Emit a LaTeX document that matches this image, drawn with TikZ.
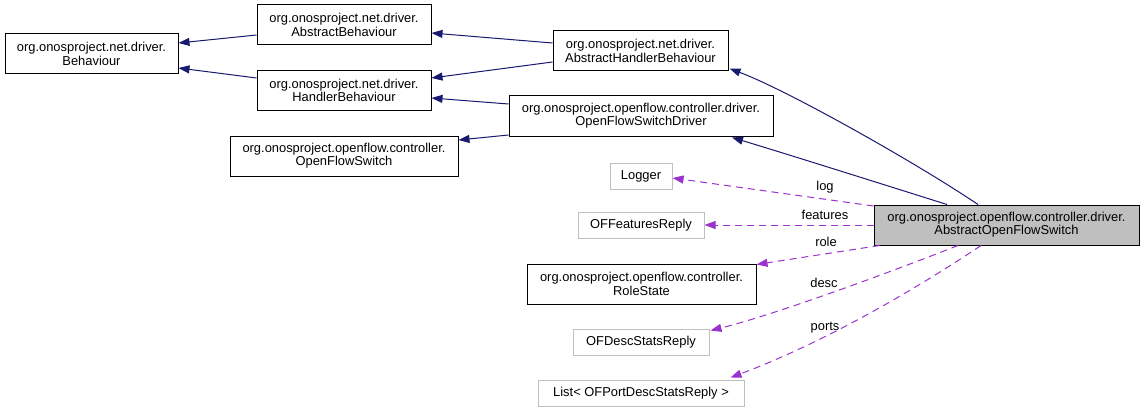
\documentclass[tikz,border=0pt]{standalone}
\usepackage{fontspec}
\setmainfont{Liberation Sans}
\usetikzlibrary{arrows.meta}
\definecolor{inhblue}{HTML}{191970}
\definecolor{usepurple}{HTML}{9A32CD}
\definecolor{undocgray}{HTML}{BFBFBF}
\tikzset{
  cls/.style={draw=black, line width=1pt, inner sep=0pt, align=center,
    font=\fontsize{12.9}{13.3}\selectfont, fill=white},
  undoc/.style={cls, draw=undocgray},
  focus/.style={cls, fill=undocgray},
  inh/.style={draw=inhblue, line width=1pt, -{Triangle[length=11pt,width=8pt]}},
  usage/.style={draw=usepurple, line width=1pt, dash pattern=on 7pt off 5pt,
    -{Triangle[length=11pt,width=8pt]}},
  elabel/.style={inner sep=0pt, text height=0.72em, text depth=0pt,
    font=\fontsize{12.9}{13.3}\selectfont}
}
\begin{document}
\begin{tikzpicture}[x=1pt,y=-1pt]
\useasboundingbox (0,0) rectangle (1144,412);
% nodes
\node[cls, minimum width=173pt, minimum height=40pt] (beh) at (91.5,54) {org.onosproject.net.driver.\\Behaviour};
\node[cls, minimum width=174pt, minimum height=40pt] (ab) at (344,25) {org.onosproject.net.driver.\\AbstractBehaviour};
\node[cls, minimum width=174pt, minimum height=40pt] (hb) at (344,90.5) {org.onosproject.net.driver.\\HandlerBehaviour};
\node[cls, minimum width=228pt, minimum height=40pt] (ofs) at (344,156) {org.onosproject.openflow.controller.\\OpenFlowSwitch};
\node[cls, minimum width=175pt, minimum height=40pt] (ahb) at (640.5,51) {org.onosproject.net.driver.\\AbstractHandlerBehaviour};
\node[cls, minimum width=264pt, minimum height=40pt] (ofsd) at (641,116) {org.onosproject.openflow.controller.driver.\\OpenFlowSwitchDriver};
\node[undoc, minimum width=62pt, minimum height=26pt] (logger) at (641,176) {Logger};
\node[undoc, minimum width=126pt, minimum height=26pt] (ofr) at (641,225) {OFFeaturesReply};
\node[cls, minimum width=229pt, minimum height=40pt] (rs) at (641.5,284) {org.onosproject.openflow.controller.\\RoleState};
\node[undoc, minimum width=136pt, minimum height=26pt] (ofd) at (641,342) {OFDescStatsReply};
\node[undoc, minimum width=206pt, minimum height=26pt] (lst) at (641,393) {List< OFPortDescStatsReply >};
\node[focus, minimum width=265pt, minimum height=40pt] (aofs) at (1006.5,225) {org.onosproject.openflow.controller.driver.\\AbstractOpenFlowSwitch};
% inheritance edges
\draw[inh] ([yshift=-10pt]ab.west) -- ([yshift=11pt]beh.east);
\draw[inh] ([yshift=12.5pt]hb.west) -- ([yshift=-14pt]beh.east);
\draw[inh] ([yshift=8pt]ahb.west) -- ([yshift=-8pt]ab.east);
\draw[inh] ([yshift=-11pt]ahb.west) -- ([yshift=12.5pt]hb.east);
\draw[inh] ([yshift=12pt]ofsd.west) -- ([yshift=-7.5pt]hb.east);
\draw[inh] ([yshift=-19pt]ofsd.west) -- ([yshift=16pt]ofs.east);
\draw[inh] ([xshift=-28.5pt]aofs.north) .. controls (918,164) and (789,91) .. ([xshift=1pt,yshift=3pt]ahb.south east);
\draw[inh] ([xshift=-59.5pt]aofs.north) .. controls (885,185) and (790,155) .. ([xshift=91pt,yshift=-1pt]ofsd.south);
% usage edges
\draw[usage] ([yshift=19pt]aofs.west) -- ([yshift=-2pt]logger.east);
\draw[usage] (aofs.west) -- (ofr.east);
\draw[usage] ([xshift=6pt]aofs.south west) -- ([yshift=-1pt]rs.north east);
\draw[usage] ([xshift=-48.5pt]aofs.south) .. controls (878,277) and (770,316) .. ([xshift=1pt,yshift=-2pt]ofd.north east);
\draw[usage] ([xshift=-25.5pt]aofs.south) .. controls (898,301) and (810,348) .. ([xshift=-14pt,yshift=2pt]lst.north east);
% edge labels
\node[elabel] (llog) at (825,187) {log};
\node[elabel] (lfeat) at (825,216) {features};
\node[elabel] (lrole) at (826,243) {role};
\node[elabel] (ldesc) at (824,284) {desc};
\node[elabel] (lports) at (825,327) {ports};
\end{tikzpicture}
\end{document}
